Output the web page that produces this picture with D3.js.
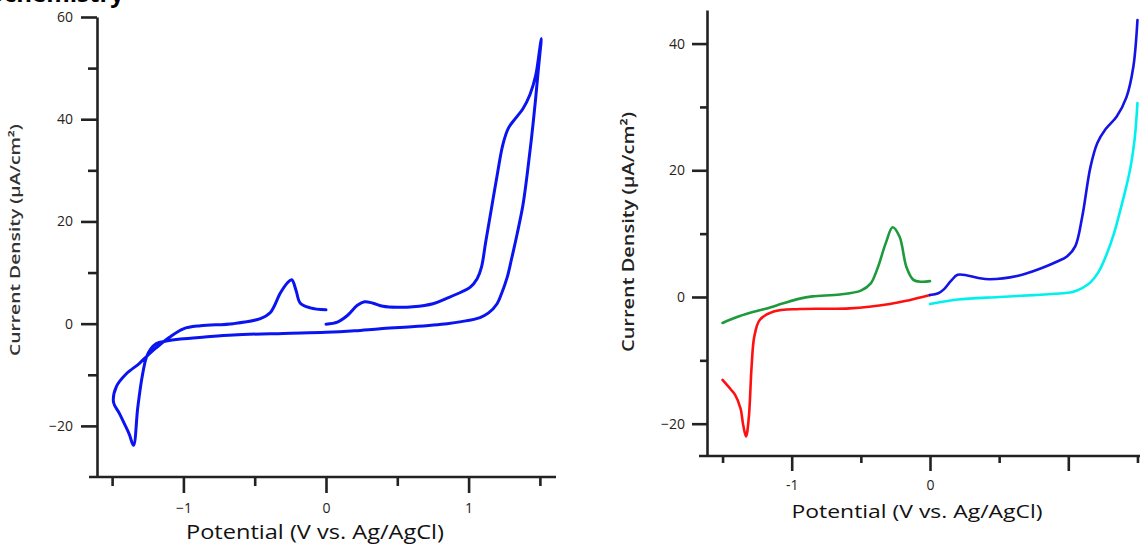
<!DOCTYPE html>
<html><head><meta charset="utf-8">
<script src="https://cdn.jsdelivr.net/npm/d3@7"></script>
<style>body{margin:0;background:#fff}svg{display:block}</style>
</head><body>
<svg id="c" width="1140" height="544"></svg>
<script>
// ---------- data ----------
const leftYMajor = [60, 40, 20, 0, -20];
const leftYMinor = [50, 30, 10, -10];
const leftXMajor = [-1, 0, 1];
const leftXMinor = [-1.5, -0.5, 0.5, 1.5];
const rightYMajor = [40, 20, 0, -20];
const rightYMinor = [30, 10, -10];
const rightXMajor = [-1, 0, 1];
const rightXMinor = [-1.5, -0.5, 0.5, 1.5];
const rightXLabels = ["-1", "0", ""];

// left CV loop [potential V, current density µA/cm²]
const leftCV = [
 [0.0,-0.1],[0.08,0.3],[0.15,1.6],[0.22,3.6],[0.27,4.3],[0.33,4.0],[0.4,3.4],[0.5,3.2],[0.61,3.3],
 [0.75,3.9],[0.85,5.0],[0.95,6.2],[1.01,7.1],[1.06,8.8],[1.09,11],[1.12,16],[1.16,22.5],[1.2,29],
 [1.24,35],[1.28,38.3],[1.33,40.2],[1.38,42],[1.43,44.8],[1.47,48.5],[1.5,54],[1.51,55.8],
 [1.49,50],[1.47,44],[1.44,36],[1.41,29],[1.38,23],[1.34,17.5],[1.3,12.5],[1.27,9],[1.23,5.8],
 [1.2,3.9],[1.14,2.1],[1.08,1.2],[0.95,0.4],[0.85,0.0],[0.6,-0.6],[0.38,-1.0],[0.2,-1.4],[0.0,-1.7],
 [-0.3,-1.9],[-0.65,-2.2],[-0.85,-2.6],[-1.02,-3.0],[-1.12,-3.4],[-1.19,-3.9],[-1.23,-5.0],
 [-1.26,-6.6],[-1.29,-10.5],[-1.32,-16.4],[-1.35,-23.8],[-1.38,-21.6],[-1.41,-19.8],[-1.45,-17.5],
 [-1.49,-15.4],[-1.47,-12.3],[-1.4,-9.8],[-1.31,-7.8],[-1.25,-6.2],[-1.19,-4.7],[-1.1,-2.7],
 [-1.0,-1.0],[-0.88,-0.4],[-0.65,0.0],[-0.46,1.0],[-0.39,2.2],[-0.32,6.0],[-0.27,8.0],[-0.24,8.6],
 [-0.21,6.5],[-0.18,4.0],[-0.11,3.1],[0.0,2.7]
];
// right panel segments
const greenSeg = [
 [-1.5,-4.1],[-1.4,-3.2],[-1.3,-2.5],[-1.18,-1.8],[-1.06,-1.0],[-0.95,-0.3],[-0.85,0.1],[-0.65,0.4],
 [-0.5,1.0],[-0.43,2.1],[-0.38,4.5],[-0.32,8.5],[-0.27,11.0],[-0.22,9.5],[-0.17,4.7],[-0.12,2.7],
 [-0.06,2.4],[0.0,2.5]
];
const redSeg = [
 [-1.5,-13.1],[-1.44,-14.6],[-1.41,-15.4],[-1.37,-17.6],[-1.35,-20.3],[-1.33,-22.0],[-1.31,-19],
 [-1.29,-11],[-1.27,-6.2],[-1.23,-3.6],[-1.13,-2.3],[-0.94,-1.9],[-0.58,-1.8],[-0.29,-1.1],
 [-0.15,-0.5],[0.0,0.3]
];
const blueSeg = [
 [0.0,0.3],[0.06,0.6],[0.1,1.2],[0.15,2.5],[0.2,3.5],[0.27,3.4],[0.35,3.0],[0.43,2.8],[0.63,3.3],
 [0.8,4.5],[0.92,5.6],[0.99,6.4],[1.05,8.0],[1.1,12.6],[1.16,20.5],[1.21,24.3],[1.27,26.5],
 [1.35,28.5],[1.42,31.5],[1.47,36.3],[1.5,43.7]
];
const cyanSeg = [
 [0.0,-1.1],[0.2,-0.4],[0.5,0.0],[0.75,0.3],[0.9,0.5],[1.03,0.8],[1.1,1.4],[1.16,2.3],[1.22,4.0],
 [1.28,6.9],[1.33,10],[1.37,13.2],[1.42,17.5],[1.45,20.5],[1.48,25],[1.5,30.6]
];

// ---------- drawing ----------
const svg = d3.select("#c");
const FONT = "'Open Sans', 'Noto Sans', sans-serif";
const AX = "#222";

// cut-off heading
svg.append("text").attr("x",124).attr("y",2).attr("text-anchor","end")
  .attr("font-family",FONT).attr("font-weight",700).attr("font-size",24).attr("fill","#000")
  .text("Electrochemistry");

function panel(o){
  const g = svg.append("g");
  const x = d3.scaleLinear().domain(o.xd).range(o.xr);
  const y = d3.scaleLinear().domain(o.yd).range(o.yr);
  // curves
  const line = d3.line().x(d=>x(d[0])).y(d=>y(d[1])).curve(d3.curveCatmullRom.alpha(0.5));
  o.series.forEach(s=>{
    g.append("path").datum(s.data).attr("d",line).attr("fill","none")
     .attr("stroke",s.color).attr("stroke-width",o.lw).attr("stroke-linejoin","round").attr("stroke-linecap","round");
  });
  // axes
  const styleAxis = sel => {
    sel.select(".domain").attr("stroke",AX).attr("stroke-width",2.6);
    sel.selectAll(".tick line").attr("stroke",AX).attr("stroke-width",2.6);
    sel.selectAll(".tick text").attr("fill","#2a2218").attr("font-family",FONT).attr("font-size",o.tfs);
  };
  const yx = o.yAxisX;
  const yAx = g.append("g").attr("transform",`translate(${yx},0)`);
  yAx.call(d3.axisLeft(y).tickValues(o.yMinor).tickSize(o.minorLen).tickFormat("").tickSizeOuter(0)).call(styleAxis);
  const yAx2 = g.append("g").attr("transform",`translate(${yx},0)`);
  yAx2.call(d3.axisLeft(y).tickValues(o.yMajor).tickSize(o.majorLen).tickPadding(o.yPad).tickFormat(d3.format("d")).tickSizeOuter(0)).call(styleAxis);
  yAx2.select(".domain").remove();
  const xAx = g.append("g").attr("transform",`translate(0,${o.yr[0]})`);
  xAx.call(d3.axisBottom(x).tickValues(o.xMinor).tickSize(o.minorLen).tickFormat("").tickSizeOuter(0)).call(styleAxis);
  xAx.select(".domain").attr("d",`M${yx-8},0H${o.xr[1]}`);
  const xAx2 = g.append("g").attr("transform",`translate(0,${o.yr[0]})`);
  xAx2.call(d3.axisBottom(x).tickValues(o.xMajor).tickSize(o.majorLen).tickPadding(o.xPad)
     .tickFormat((d,i)=>o.xLabels?o.xLabels[i]:d3.format("d")(d)).tickSizeOuter(0)).call(styleAxis);
  xAx2.select(".domain").remove();
  // titles
  g.append("text").attr("x",o.xl[0]).attr("y",o.xl[1]).attr("text-anchor","middle")
    .attr("font-family",FONT).attr("font-size",o.xlfs).attr("fill","#111")
    .attr("textLength",o.xlw).attr("lengthAdjust","spacingAndGlyphs").text("Potential (V vs. Ag/AgCl)");
  g.append("text").attr("transform",`translate(${o.yl[0]},${o.yl[1]}) rotate(-90)`).attr("text-anchor","middle")
    .attr("font-family",FONT).attr("font-size",o.ylfs).attr("font-weight",600).attr("fill",o.ylc)
    .attr("textLength",o.ylw).attr("lengthAdjust","spacingAndGlyphs")
    .text("Current Density (\u03bcA/cm\u00b2)");
}

panel({
  xd:[-1.655,1.613], xr:[90,556], yAxisX:97, yd:[-30,60], yr:[477,17],
  series:[{data:leftCV,color:"#0a14f0"}], lw:3,
  yMajor:leftYMajor, yMinor:leftYMinor, xMajor:leftXMajor, xMinor:leftXMinor,
  majorLen:16, minorLen:9, yPad:8, xPad:10, tfs:14,
  xl:[315,539], xlfs:20, xlw:258, yl:[20,240], ylfs:15, ylw:232, ylc:"#333"
});
panel({
  xd:[-1.6124,1.5184], xr:[707,1140], yAxisX:707, yd:[-25.1,45.3], yr:[456,10],
  series:[{data:greenSeg,color:"#1e9a3c"},{data:redSeg,color:"#ff1010"},{data:blueSeg,color:"#1414e6"},{data:cyanSeg,color:"#00f0f0"}],
  lw:2.6,
  yMajor:rightYMajor, yMinor:rightYMinor, xMajor:rightXMajor, xMinor:rightXMinor, xLabels:rightXLabels,
  majorLen:15, minorLen:7, yPad:7, xPad:9, tfs:14,
  xl:[917,518], xlfs:18, xlw:251, yl:[634,232], ylfs:17, ylw:240, ylc:"#222"
});
</script>
</body></html>
